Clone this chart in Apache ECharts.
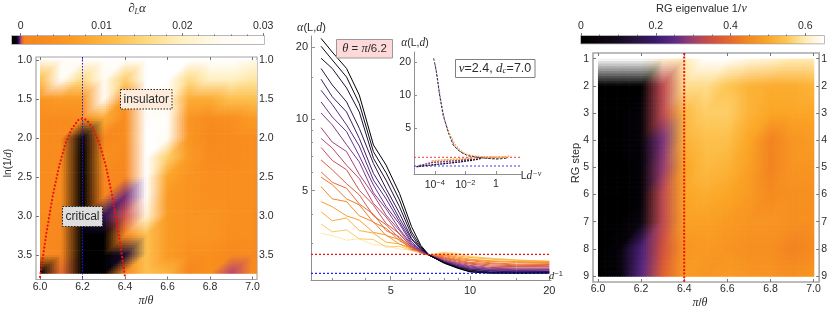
<!DOCTYPE html>
<html><head><meta charset="utf-8"><style>html,body{margin:0;padding:0;background:#fff}#c{width:830px;height:312px}</style>
<script src="https://cdn.jsdelivr.net/npm/echarts@6/dist/echarts.min.js"></script></head><body><div id="c"></div>
<script>
// ---------- data ----------
const thetaCols = [6.0,6.1,6.2,6.3,6.4,6.5,6.6,6.7,6.8,6.9,7.0];
const leftCols = [6.0,6.1,6.2,6.3,6.4,6.5,6.6,6.7,6.8,6.9,7.0,7.02];
const logRows = [1.0,1.25,1.5,1.75,2.0,2.25,2.5,2.75,3.0,3.25,3.5,3.73];
const dAlphaGrid = [
 [.024,.026,.026,.028,.028,.030,.030,.030,.030,.030,.024,.024],
 [.012,.028,.016,.026,.014,.030,.030,.016,.020,.020,.018,.018],
 [.005,.006,.006,.026,.005,.030,.024,.009,.009,.012,.012,.012],
 [.003,.003,.004,.009,.003,.028,.028,.005,.003,.004,.006,.006],
 [.003,.003,-.0007,.0015,.003,.030,.026,.005,.002,.003,.004,.003],
 [.003,.003,-.0011,.004,.002,.030,.014,.006,.003,.003,.004,.003],
 [.003,.003,-.0011,.002,.0015,.030,.008,.005,.004,.004,.004,.003],
 [.003,.003,-.0011,.0005,-.0001,.028,.006,.005,.004,.004,.004,.003],
 [.003,.002,-.0011,-.0003,.0001,.022,.006,.005,.005,.004,.004,.002],
 [.003,.0015,-.0011,-.0011,.0015,.012,.006,.005,.005,.004,.004,.002],
 [.002,.0015,-.0011,-.0011,-.0004,.012,.006,.004,.004,.002,.003,.002],
 [-.0009,.0003,-.0011,-.001,.002,.012,.010,.0012,.004,.00003,.003,.002]
];
const rgSteps = [1,2,3,4,5,6,7,8,9];
const eigenGrid = [
 [.65,.65,.65,.62,.60,.65,.65,.63,.62,.60,.60],
 [0,0,0,.33,.58,.58,.55,.52,.51,.51,.52],
 [0,0,.03,.33,.53,.56,.56,.52,.50,.50,.50],
 [0,0,.03,.27,.52,.54,.54,.50,.44,.47,.48],
 [0,0,.02,.29,.50,.53,.52,.49,.44,.47,.47],
 [0,0,.02,.33,.50,.51,.50,.48,.45,.46,.46],
 [0,0,.05,.33,.49,.49,.48,.47,.47,.46,.46],
 [0,.03,.22,.35,.47,.48,.47,.46,.46,.44,.45],
 [0,.03,.24,.38,.48,.47,.48,.47,.47,.46,.47]
];
const inverseD = [2.72,3,3.4,3.8,4.3,4.8,5.4,6,6.5,7,8,9,10,12,15,20];
const alphaCurves = [
 [21.8,19.1,16.3,12.6,7.78,6.41,4.87,3.53,2.95,2.68,2.48,2.36,2.28,2.25,2.25,2.25],
 [20.2,17.7,15.0,11.6,7.29,5.95,4.57,3.36,2.91,2.68,2.48,2.37,2.29,2.26,2.25,2.26],
 [18.0,16.3,13.5,10.7,6.84,5.54,4.28,3.26,2.86,2.68,2.49,2.38,2.31,2.27,2.27,2.27],
 [16.3,13.9,11.8,9.14,6.5,5.11,4.02,3.15,2.86,2.68,2.50,2.39,2.32,2.28,2.28,2.28],
 [14.7,12.4,10.7,8.29,5.91,4.86,3.82,3.12,2.86,2.68,2.51,2.40,2.34,2.30,2.28,2.29],
 [13.2,11.5,9.45,7.7,5.54,4.62,3.7,3.05,2.82,2.68,2.52,2.42,2.35,2.31,2.30,2.30],
 [11.8,10.2,8.85,7.0,5.28,4.3,3.62,3.00,2.82,2.68,2.52,2.43,2.37,2.33,2.31,2.32],
 [10.6,9.45,7.8,6.6,4.9,4.2,3.45,2.97,2.80,2.68,2.53,2.45,2.39,2.34,2.33,2.33],
 [9.20,8.0,7.3,5.85,4.8,3.95,3.4,2.93,2.80,2.68,2.55,2.46,2.41,2.36,2.35,2.35],
 [8.29,7.55,6.4,5.62,4.42,3.88,3.28,2.93,2.77,2.68,2.56,2.48,2.43,2.38,2.37,2.37],
 [7.60,6.7,6.12,5.02,4.35,3.64,3.3,2.88,2.77,2.68,2.58,2.50,2.46,2.41,2.40,2.40],
 [6.73,6.12,5.35,4.8,3.92,3.6,3.15,2.91,2.77,2.68,2.60,2.53,2.48,2.44,2.42,2.43],
 [6.00,5.42,5.12,4.4,3.98,3.4,3.2,2.84,2.79,2.68,2.62,2.55,2.50,2.47,2.44,2.45],
 [5.70,5.3,4.62,4.36,3.68,3.48,3.08,2.89,2.74,2.68,2.64,2.57,2.54,2.49,2.46,2.47],
 [5.20,4.62,4.5,3.92,3.7,3.24,3.12,2.83,2.79,2.68,2.67,2.60,2.56,2.52,2.50,2.50],
 [4.50,4.28,3.92,3.76,3.34,3.26,2.98,2.88,2.75,2.68,2.69,2.63,2.58,2.54,2.52,2.51],
 [4.08,3.74,3.84,3.4,3.32,3.04,2.99,2.82,2.77,2.68,2.72,2.66,2.62,2.58,2.55,2.53],
 [3.62,3.36,3.42,3.14,3.12,2.9,2.92,2.8,2.75,2.68,2.75,2.70,2.64,2.60,2.56,2.52],
 [3.31,3.24,3.1,3.14,2.96,2.95,2.84,2.81,2.73,2.68,2.77,2.73,2.66,2.60,2.56,2.52]
];
const criticalDome = [[6,3.78],[6.03,3.22],[6.06,2.74],[6.09,2.36],[6.12,2.07],[6.15,1.88],[6.18,1.77],[6.2,1.75],[6.22,1.77],[6.25,1.88],[6.28,2.07],[6.31,2.36],[6.34,2.74],[6.37,3.22],[6.4,3.78]];
const collapseUpperDark = [[-4.07,21.6],[-3.89,16.3],[-3.72,10.7],[-3.46,6.57],[-3.13,4.63],[-2.8,3.5],[-2.36,3.04],[-1.82,2.79],[-1.05,2.68],[.05,2.6],[.8,2.66]];
const collapseUpperPurple = [[-3.98,19],[-3.8,13.5],[-3.6,8.8],[-3.35,5.9],[-3.05,4.4],[-2.7,3.4],[-2.2,2.95],[-1.6,2.76],[-.8,2.66],[.3,2.64]];
const collapseUpperOrange = [[-3.2,5.0],[-2.95,4.2],[-2.7,3.6],[-2.4,3.2],[-2,2.9],[-1.5,2.8],[-.9,2.74],[0,2.72],[1,2.78]];
const collapseLowerDark = [[-5.2,2.22],[-4.2,2.3],[-3.2,2.38],[-2.4,2.45],[-1.5,2.55],[-1.0,2.63]];
const collapseLowerPurple = [[-5,2.27],[-4.2,2.42],[-3.4,2.47],[-2.5,2.52],[-1.5,2.6]];
const collapseLowerOrange = [[-4.2,2.5],[-3.4,2.56],[-2.5,2.6],[-1.5,2.66],[-.5,2.7],[.6,2.7]];
const leftBarTicks = [0,.01,.02,.03];
const leftBarMinor = [.002,.004,.006,.008,.012,.014,.016,.018,.022,.024,.026,.028];
const rightBarTicks = [0,.2,.4,.6];
const rightBarMinor = [.05,.1,.15,.25,.3,.35,.45,.5,.55];
const thetaTicks = [6.0,6.2,6.4,6.6,6.8,7.0];
const logTicks = [1.0,1.5,2.0,2.5,3.0,3.5];
const alphaTicks = [5,10,20];
const alphaMinor = [3,4,6,7,8,9,15];
const invDTicks = [5,10,20];
const invDMinor = [3,4,6,7,8,9,15];
const collapseTicks = [-4,-2,0];
const collapseAlphaTicks = [5,10,20];
const redLevel = 2.70, blueLevel = 2.25, thetaCritical = 6.2, thetaRG = 6.4;

// ---------- styles ----------
const leftStops = [[-.00108,'#000000'],[-.0005,'#0a0512'],[-.0002,'#3d1b70'],[0,'#b0407a'],[.00015,'#e0603c'],[.0005,'#f6841f'],[.004,'#f98f1e'],[.008,'#fba52c'],[.012,'#fdc050'],[.016,'#fedc86'],[.02,'#fff0c4'],[.025,'#fffbf2'],[.0301,'#ffffff']];
const rightStops = [[0,'#000000'],[.1,'#140a1e'],[.15,'#2a1344'],[.2,'#3a1a6b'],[.25,'#5d2a88'],[.3,'#a0406c'],[.35,'#d0503f'],[.4,'#e8682a'],[.45,'#f58a1f'],[.5,'#fba626'],[.55,'#fdc654'],[.6,'#ffecb5'],[.65,'#ffffff']];
const curveColors = ['#000000','#0d0a1a','#1d0f33','#2f1650','#3f1d6b','#552a85','#6a3090','#7f3a8a','#a5447a','#bb4a64','#cc5450','#dc5f42','#e86d34','#ee7a2c','#f48a26','#f89c2c','#fbb040','#fdc968','#feeaa8'];
const AXC='#8f8f8f', TXT='#2b2b2b', SANS='"Liberation Sans",Arial,sans-serif', SERIF='"Liberation Serif",serif';

const hex = h => [1,3,5].map(k=>parseInt(h.substr(k,2),16));
function cmap(stops,v){
  if(v<=stops[0][0]) return hex(stops[0][1]);
  for(let k=1;k<stops.length;k++) if(v<=stops[k][0]){
    const t=(v-stops[k-1][0])/(stops[k][0]-stops[k-1][0]), a=hex(stops[k-1][1]), b=hex(stops[k][1]);
    return a.map((c,n)=>c+t*(b[n]-c));
  }
  return hex(stops[stops.length-1][1]);
}

// ---------- layout ----------
const grids=[
 {left:12,top:36,width:252,height:8,show:true,borderColor:'#a0a0a0',borderWidth:1.4},
 {left:36,top:57,width:221,height:222.5,show:true,borderColor:'#a6a6a6',borderWidth:1.2},
 {left:311,top:36,width:240,height:244},
 {left:414,top:52,width:107,height:122},
 {left:581,top:36,width:243,height:7.5,show:true,borderColor:'#a0a0a0',borderWidth:1.4},
 {left:593,top:53,width:230,height:229,show:true,borderColor:'#a6a6a6',borderWidth:1.6}
].map(g=>Object.assign({containLabel:false,backgroundColor:'transparent'},g));
const xAxis=[], yAxis=[];
function ax(o){
  return {type:'value',gridIndex:o.g,position:o.pos,min:o.min,max:o.max,scale:true,inverse:!!o.inv,
    axisLine:{show:!!o.line,onZero:false,lineStyle:{color:AXC,width:1}},
    splitLine:{show:false},
    axisTick:{show:!!o.ticks,customValues:o.ticks||[],inside:o.inside!==false,length:o.len||3,lineStyle:{color:o.tc||'#777',width:1}},
    axisLabel:{show:!!o.labels,customValues:o.labels||[],formatter:o.fmt,margin:o.m||3,color:TXT,fontSize:o.fs||10.5,fontFamily:SANS,rich:o.rich}};
}
const f1=v=>v.toFixed(1), num=v=>String(+v.toFixed(3));
xAxis.push(ax({g:0,pos:'top',min:-.00108,max:.0301,ticks:leftBarTicks,labels:leftBarTicks,fmt:num,inside:false,len:3,m:4})); //0
xAxis.push(ax({g:0,pos:'top',min:-.00108,max:.0301,ticks:leftBarMinor,inside:false,len:1.5})); //1
yAxis.push(ax({g:0,pos:'left',min:0,max:1})); //0
const lx=[5.9812,7.0212], ly=[.9615,3.814];
xAxis.push(ax({g:1,pos:'bottom',min:lx[0],max:lx[1],ticks:thetaTicks,labels:thetaTicks,fmt:f1,m:2})); //2
xAxis.push(ax({g:1,pos:'top',min:lx[0],max:lx[1],ticks:thetaTicks})); //3
yAxis.push(ax({g:1,pos:'left',min:ly[0],max:ly[1],inv:true,ticks:logTicks,labels:logTicks,fmt:f1,m:4})); //1
yAxis.push(ax({g:1,pos:'right',min:ly[0],max:ly[1],inv:true,ticks:logTicks,labels:logTicks,fmt:f1,m:2})); //2
const L2=v=>Math.log2(v);
const mx=[1.317,4.343], my=[1.0764,4.4795];
xAxis.push(ax({g:2,pos:'bottom',min:mx[0],max:mx[1],line:true,ticks:invDTicks.map(L2),labels:invDTicks.map(L2),fmt:v=>String(Math.round(2**v)),len:4,m:5,tc:AXC,fs:11})); //4
xAxis.push(ax({g:2,pos:'bottom',min:mx[0],max:mx[1],ticks:invDMinor.map(L2),len:2,tc:AXC})); //5
yAxis.push(ax({g:2,pos:'left',min:my[0],max:my[1],line:true,ticks:alphaTicks.map(L2),labels:alphaTicks.map(L2),fmt:v=>String(Math.round(2**v)),len:4,m:3,tc:AXC,fs:11})); //3
yAxis.push(ax({g:2,pos:'left',min:my[0],max:my[1],ticks:alphaMinor.map(L2),len:2,tc:AXC})); //4
const ix=[-5.357,1.64], iy=[.928,4.625];
xAxis.push(ax({g:3,pos:'bottom',min:ix[0],max:ix[1],line:true,ticks:collapseTicks,labels:collapseTicks,len:3,m:5,tc:AXC,fs:10.5,
  fmt:v=>v===0?'1':'10{s|\u2212'+Math.abs(v)+'}',rich:{s:{fontSize:7.5,fontFamily:SANS,color:TXT,verticalAlign:'top',padding:[0,0,5,0]}}})); //6
yAxis.push(ax({g:3,pos:'left',min:iy[0],max:iy[1],line:true,ticks:collapseAlphaTicks.map(L2),labels:collapseAlphaTicks.map(L2),fmt:v=>String(Math.round(2**v)),len:3,m:3,tc:AXC,fs:10.5})); //5
xAxis.push(ax({g:4,pos:'top',min:0,max:.65,ticks:rightBarTicks,labels:rightBarTicks,fmt:num,inside:false,len:3,m:4})); //7
xAxis.push(ax({g:4,pos:'top',min:0,max:.65,ticks:rightBarMinor,inside:false,len:1.5})); //8
yAxis.push(ax({g:4,pos:'left',min:0,max:1})); //6
const rx=[5.977,7.026], ry=[.79,9.22];
xAxis.push(ax({g:5,pos:'bottom',min:rx[0],max:rx[1],ticks:thetaTicks,labels:thetaTicks,fmt:f1,m:2})); //9
xAxis.push(ax({g:5,pos:'top',min:rx[0],max:rx[1],ticks:thetaTicks})); //10
yAxis.push(ax({g:5,pos:'left',min:ry[0],max:ry[1],inv:true,ticks:rgSteps,labels:rgSteps,fmt:v=>String(v),m:4})); //7
yAxis.push(ax({g:5,pos:'right',min:ry[0],max:ry[1],inv:true,ticks:rgSteps,labels:rgSteps,fmt:v=>String(v),m:2})); //8

// ---------- series ----------
function heatSeries(xs,ys,gridV,stops,xi,yi){
  const data=[];
  ys.forEach((y,j)=>xs.forEach((x,i)=>data.push([x,y,gridV[j][i]])));
  const nx=xs.length;
  return {type:'custom',xAxisIndex:xi,yAxisIndex:yi,silent:true,clip:true,z:2,animation:false,data,
    renderItem(p,api){
      const idx=p.dataIndex,i=idx%nx,j=Math.floor(idx/nx);
      if(i>=nx-1||j>=ys.length-1) return null;
      const P0=api.coord([xs[i],ys[j]]),P1=api.coord([xs[i+1],ys[j+1]]);
      const W=P1[0]-P0[0],H=P1[1]-P0[1],a=cmap(stops,gridV[j][i]),b=cmap(stops,gridV[j][i+1]),c=cmap(stops,gridV[j+1][i]),d=cmap(stops,gridV[j+1][i+1]);
      const nu=Math.ceil(W/2.5),nv=Math.ceil(H/2.5),children=[];
      for(let q=0;q<nv;q++)for(let r=0;r<nu;r++){
        const u=(r+.5)/nu,v=(q+.5)/nv,col=[0,1,2].map(n=>u+v<=1?a[n]+u*(b[n]-a[n])+v*(c[n]-a[n]):d[n]+(1-u)*(c[n]-d[n])+(1-v)*(b[n]-d[n]));
        children.push({type:'rect',shape:{x:P0[0]+r*W/nu,y:P0[1]+q*H/nv,width:W/nu+.7,height:H/nv+.7},style:{fill:'rgb('+col.map(Math.round).join(',')+')'},silent:true});
      }
      return {type:'group',children,silent:true};
    }};
}
function barSeries(stops,xi,yi){
  const lo=stops[0][0],hi=stops[stops.length-1][0];
  return {type:'custom',xAxisIndex:xi,yAxisIndex:yi,silent:true,z:1,data:[[lo,0,hi,1]],
    renderItem(p,api){
      const s=api.coord([lo,1]),e=api.coord([hi,0]);
      return {type:'rect',shape:{x:s[0],y:s[1],width:e[0]-s[0],height:e[1]-s[1]},
        style:{fill:new echarts.graphic.LinearGradient(0,0,1,0,stops.map(t=>({offset:(t[0]-lo)/(hi-lo),color:t[1]})))}};
    }};
}
function ln(data,xi,yi,color,width,type,z,cap){
  return {type:'line',xAxisIndex:xi,yAxisIndex:yi,data,symbol:'none',smooth:false,silent:true,clip:true,z:z||5,animation:false,
    lineStyle:{color,width,type:type||'solid',opacity:1,cap:cap||'butt'}};
}
const L=pts=>pts.map(p=>[p[0],L2(p[1])]);
const series=[
  barSeries(leftStops,0,0), barSeries(rightStops,7,6),
  heatSeries(leftCols,logRows,dAlphaGrid,leftStops,2,1),
  heatSeries(thetaCols,rgSteps,eigenGrid,rightStops,9,7),
  ln(criticalDome,2,1,'#f01010',2.2,[.1,3.6],8,'round'),
  ln([[thetaCritical,ly[0]],[thetaCritical,ly[1]]],2,1,'#1a1aff',1,[1.5,1.5],7),
  ln([[thetaRG,ry[0]],[thetaRG,ry[1]]],9,7,'#f01010',2,[2,1.6],7)
];
alphaCurves.map((c,k)=>k).reverse().forEach(k=>{
  series.push(ln(inverseD.map((x,i)=>[L2(x),L2(alphaCurves[k][i])]),4,3,curveColors[k],1,null,5+(19-k)/10));
});
series.push(ln([[mx[0],L2(redLevel)],[mx[1],L2(redLevel)]],4,3,'#f01010',1.2,[2,2],8));
series.push(ln([[mx[0],L2(blueLevel)],[mx[1],L2(blueLevel)]],4,3,'#2222ee',1.2,[2,2],8));
series.push(ln([[ix[0],L2(redLevel)],[ix[1],L2(redLevel)]],6,5,'#f06060',1.1,[2,2],6));
series.push(ln([[ix[0],L2(blueLevel)],[ix[1],L2(blueLevel)]],6,5,'#3a3af0',1.1,[2,2],6));
series.push(ln(L(collapseLowerOrange),6,5,'#f9a83a',1.6,[2,1],7));
series.push(ln(L(collapseLowerPurple),6,5,'#8a3f8a',1.5,[2,1],7));
series.push(ln(L(collapseLowerDark),6,5,'#1a0f33',1.4,[2,1],7));
series.push(ln(L(collapseUpperPurple),6,5,'#8a5aa0',1,[2,1.5],7));
series.push(ln(L(collapseUpperDark),6,5,'#222222',.9,[2.5,1.5],7));
series.push(ln(L(collapseUpperOrange),6,5,'#f4a04a',1.2,[1.5,1.5],7));

// ---------- annotation text ----------
const I=(size)=>({fontSize:size,fontFamily:SERIF,fontStyle:'italic',fill:TXT});
const S=(size)=>({fontSize:size,fontFamily:SANS,fill:TXT});
function txt(x,y,text,rich,opt){
  return Object.assign({type:'text',x,y,z:100,silent:true,style:{text,rich,align:'center',verticalAlign:'middle',fontSize:11,fontFamily:SANS,fill:TXT}},opt||{});
}
function plain(x,y,text,size,align,rot){
  return {type:'text',x,y,z:100,silent:true,rotation:rot||0,style:{text,align:align||'center',verticalAlign:'middle',fontSize:size,fontFamily:SANS,fill:TXT}};
}
function box(x,y,w,h,fill,stroke,dash,lw){
  return {type:'rect',z:99,silent:true,shape:{x,y,width:w,height:h},style:{fill,stroke,lineWidth:lw||1,lineDash:dash||null}};
}
const graphic=[
  txt(137,9,'{i|\u2202}{l|L}{i|\u03b1}',{i:I(13),l:Object.assign(I(8),{verticalAlign:'bottom',padding:[4,0,0,0]})}),
  txt(8.5,163,'{t|ln(1/}{i|d}{t|)}',{t:S(10),i:I(11)},{rotation:Math.PI/2}),
  txt(146,301,'{i|\u03c0}{t|/}{i|\u03b8}',{i:I(12),t:S(11)}),
  box(120.5,89.5,51.5,19.5,'#fdebdc','#222',[1.5,1.5]),
  plain(146.3,99.5,'insulator',12),
  box(62.5,206.5,40,20,'#dedede','#222',[1.5,1.5]),
  plain(82.5,216.5,'critical',12),
  txt(311.5,28,'{a|\u03b1}{t|(L,}{i|d}{t|)}',{a:I(12),t:S(11),i:I(12)}),
  box(336.5,39.5,56,18.5,'#fdd9d9','#999'),
  txt(364.5,48.5,'{i|\u03b8}{t| = }{i|\u03c0}{t|/6.2}',{i:I(12.5),t:S(11.5)}),
  txt(415,43,'{a|\u03b1}{t|(L,}{i|d}{t|)}',{a:I(11.5),t:S(10.5),i:I(11.5)}),
  box(455.5,59.5,79.5,18,'#ffffff','#808080'),
  txt(495,68.5,'{i|\u03bd}{t|=2.4, }{i|d}{s|c}{t|=7.0}',{i:I(13),t:S(12.5),s:Object.assign(I(9),{verticalAlign:'bottom',padding:[5,0,0,0]})}),
  txt(531,176,'{t|L}{i|d}{s|\u2212\u03bd}',{t:S(10.5),i:I(11.5),s:Object.assign(I(8),{verticalAlign:'top',padding:[0,0,4,0]})}),
  txt(556,276,'{i|d}{s|\u22121}',{i:I(10.5),s:Object.assign(S(7.5),{verticalAlign:'top',padding:[0,0,4,0]})}),
  plain(741,9,'RG eigenvalue 1/',11,'right'),
  {type:'text',x:741.5,y:9,z:100,silent:true,style:{text:'\u03bd',align:'left',verticalAlign:'middle',fontSize:12,fontStyle:'italic',fontFamily:SERIF,fill:TXT}},
  plain(576,163,'RG step',11,'center',Math.PI/2),
  txt(700,303,'{i|\u03c0}{t|/}{i|\u03b8}',{i:I(12),t:S(11)})
];

const chart=echarts.init(document.getElementById('c'),null,{renderer:'canvas'});
chart.setOption({animation:false,backgroundColor:'#ffffff',grid:grids,xAxis,yAxis,series,graphic});
</script></body></html>
